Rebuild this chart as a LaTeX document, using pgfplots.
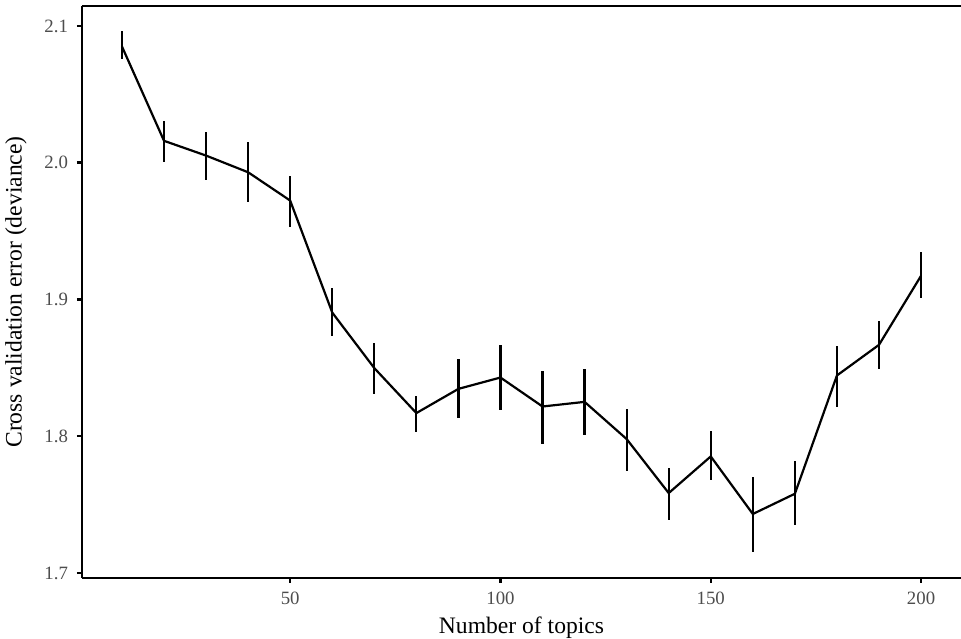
\documentclass[border=0pt]{standalone}
\usepackage{pgfplots}
\pgfplotsset{compat=1.18}
\usepackage{fontspec}
\setmainfont{Liberation Serif}
\definecolor{ticktext}{HTML}{4D4D4D}
\begin{document}
\begin{tikzpicture}
\begin{axis}[
  scale only axis,
  width=439.5pt, height=286pt,
  xmin=0.5, xmax=209.5,
  ymin=1.6963, ymax=2.1146,
  xtick={50,100,150,200},
  ytick={1.7,1.8,1.9,2.0,2.1},
  yticklabels={1.7,1.8,1.9,2.0,2.1},
  axis x line*=bottom,
  axis y line*=left,
  axis line style={line width=1.3pt, black},
  tick align=outside,
  major tick length=2.5pt,
  tick style={line width=1.2pt, black},
  /pgf/number format/assume math mode=true,
  ticklabel style={font=\fontsize{9.4}{10}\selectfont, text=ticktext},
  xticklabel style={yshift=-1pt},
  yticklabel style={xshift=-1pt},
  label style={font=\fontsize{11.8}{13}\selectfont, text=black},
  xlabel={Number of topics},
  ylabel={Cross validation error (deviance)},
  xlabel style={yshift=1pt},
  ylabel style={yshift=2pt},
  clip=false,
]
\addplot[black, line width=1.1pt,
  error bars/.cd, y dir=both, y explicit, error mark=none,
  error bar style={line width=1.1pt, black}]
  table[x=x, y=y, y error plus=ep, y error minus=em] {
x y ep em
10 2.0850 0.0110 0.0090
20 2.0160 0.0145 0.0156
30 2.0052 0.0171 0.0178
40 1.9930 0.0224 0.0219
50 1.9723 0.0181 0.0190
60 1.8904 0.0179 0.0170
70 1.8498 0.0187 0.0190
80 1.8169 0.0126 0.0135
90 1.8346 0.0217 0.0214
100 1.8429 0.0241 0.0241
110 1.8217 0.0263 0.0273
120 1.8251 0.0239 0.0241
130 1.7979 0.0221 0.0232
140 1.7584 0.0187 0.0200
150 1.7852 0.0188 0.0171
160 1.7431 0.0274 0.0281
170 1.7579 0.0236 0.0232
180 1.8444 0.0212 0.0227
190 1.8668 0.0178 0.0178
200 1.9173 0.0177 0.0163
};
\draw[line width=1.3pt, black] (rel axis cs:0,1) -- (rel axis cs:1,1);
\coordinate (SW) at (rel axis cs:0,0);
\coordinate (NE) at (rel axis cs:1,1);
\end{axis}
\pgfresetboundingbox
\path[use as bounding box] ([xshift=-41pt,yshift=-30.5pt]SW) rectangle ([yshift=3pt]NE);
\end{tikzpicture}
\end{document}
